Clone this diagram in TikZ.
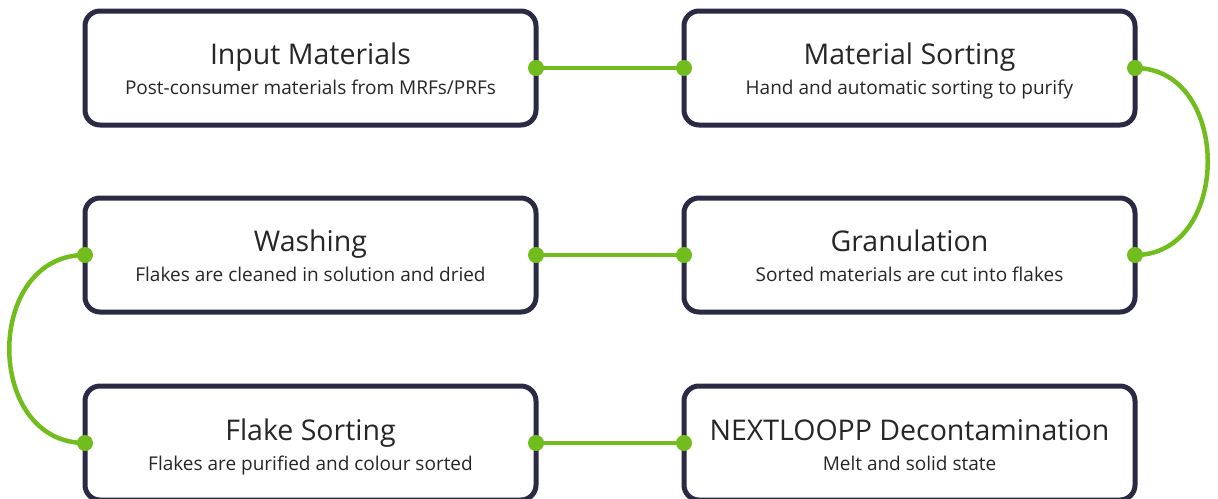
\documentclass[tikz,border=0pt]{standalone}
\usepackage{fontspec}
\setmainfont{Open Sans}
\definecolor{boxline}{HTML}{2B2A45}
\definecolor{linkgreen}{HTML}{72BD1E}
\definecolor{txt}{HTML}{262626}
\tikzset{
  stagebox/.style={draw=boxline, line width=5pt, rounded corners=15pt, fill=white,
    minimum width=451pt, minimum height=114pt, outer sep=0pt, inner sep=0pt},
  stagetitle/.style={anchor=base, text=txt, font=\fontsize{28.5}{34}\selectfont, inner sep=0pt},
  stagesub/.style={anchor=base, text=txt, font=\fontsize{19}{23}\selectfont, inner sep=0pt},
  link/.style={draw=linkgreen, line width=4.5pt},
  dot/.style={fill=linkgreen}
}
% #5: vertical shift of the title baseline above the box centre
\newcommand{\stage}[5]{%
  \node[stagebox] (#1) at (#2) {};
  \node[stagetitle] (#1t) at ([yshift=#5]#1.center) {#3};
  \node[stagesub] (#1s) at ([yshift=#5-30pt]#1.center) {#4};
}
\begin{document}
\begin{tikzpicture}[x=1pt,y=-1pt]
\useasboundingbox (0,0) rectangle (1218,498);
\stage{input}{310.5,68}{Input Materials}{Post-consumer materials from MRFs/PRFs}{4pt}
\stage{msort}{909.5,68}{Material Sorting}{Hand and automatic sorting to purify}{4pt}
\stage{gran}{909.5,255}{Granulation}{Sorted materials are cut into flakes}{4pt}
\stage{wash}{310.5,255}{Washing}{Flakes are cleaned in solution and dried}{4pt}
\stage{fsort}{310.5,443}{Flake Sorting}{Flakes are purified and colour sorted}{3pt}
\stage{decon}{909.5,443}{NEXTLOOPP Decontamination}{Melt and solid state}{3pt}

\draw[link] (input.east) -- (msort.west);
\draw[link] (msort.east) .. controls +(97,0) and +(97,0) .. (gran.east);
\draw[link] (gran.west) -- (wash.east);
\draw[link] (wash.west) .. controls +(-101,0) and +(-101,0) .. (fsort.west);
\draw[link] (fsort.east) -- (decon.west);

\foreach \p in {input.east, msort.west, msort.east, gran.east, gran.west, wash.east, wash.west, fsort.west, fsort.east, decon.west}
  \fill[dot] (\p) circle (8pt);
\end{tikzpicture}
\end{document}
